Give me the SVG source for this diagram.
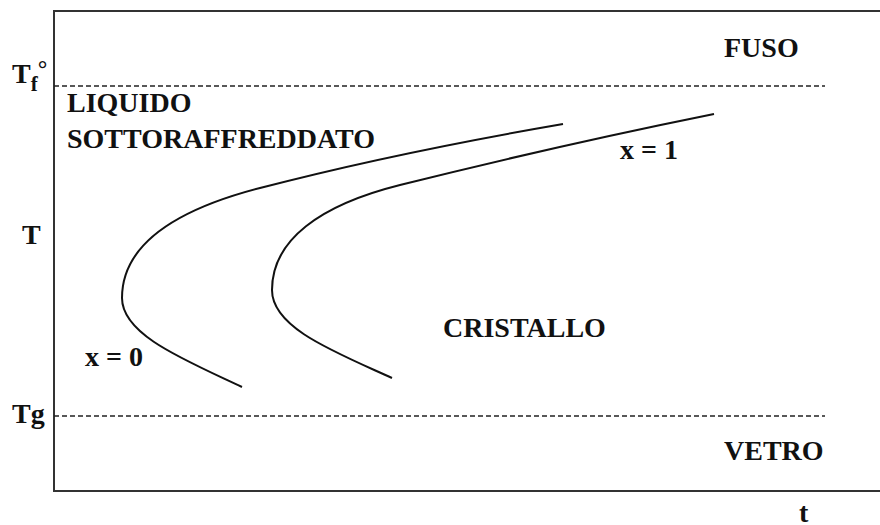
<svg xmlns="http://www.w3.org/2000/svg" width="880" height="525" viewBox="0 0 880 525">
<style>
.lbl{font-weight:bold;font-size:28px;fill:#111}
.ax{stroke:#333;stroke-width:2;fill:none}
.dash{stroke:#222;stroke-width:1.5;stroke-dasharray:5 3;fill:none}
.crv{stroke:#111;stroke-width:2;fill:none}
</style>
<rect width="880" height="525" fill="#fff"/>
<g id="axes">
<path class="ax" d="M880,11 H54 V491 H880"/>
</g>
<g id="levels">
<line class="dash" x1="54" y1="86" x2="825" y2="86"/>
<line class="dash" x1="54" y1="416" x2="825" y2="416"/>
</g>
<g id="connectors">
<path id="curve0" class="crv" d="M242,387 C185,360 122,335 122,298 C122,245 175,210 260,188 C360,162 470,140 563,124"/>
<path id="curve1" class="crv" d="M392,378 C335,352 272,328 272,290 C272,240 320,205 400,185 C500,160 610,135 714,114"/>
</g>
<g id="labels" font-family="'Liberation Serif', 'DejaVu Serif', serif">
<text class="lbl" x="12" y="83">T<tspan font-size="21" dy="8">f</tspan><tspan font-size="24" dy="-14">°</tspan></text>
<text class="lbl" x="22" y="244">T</text>
<text class="lbl" x="12" y="423">Tg</text>
<text class="lbl" x="724" y="57">FUSO</text>
<text class="lbl" x="67" y="112">LIQUIDO</text>
<text class="lbl" x="67" y="148">SOTTORAFFREDDATO</text>
<text class="lbl" x="620" y="159">x = 1</text>
<text class="lbl" x="443" y="337">CRISTALLO</text>
<text class="lbl" x="85" y="366">x = 0</text>
<text class="lbl" x="724" y="460">VETRO</text>
<text class="lbl" x="799" y="522" font-weight="normal">t</text>
</g>
</svg>
